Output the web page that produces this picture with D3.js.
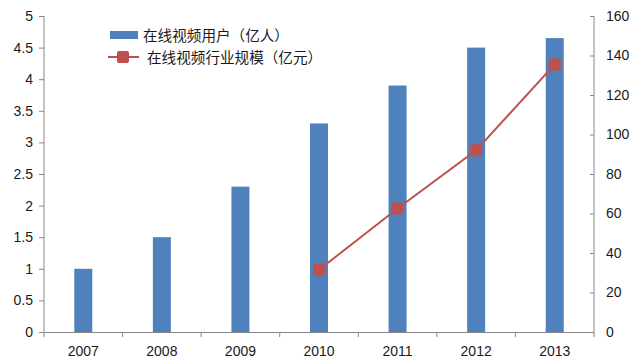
<!DOCTYPE html>
<html>
<head>
<meta charset="utf-8">
<script src="https://cdn.jsdelivr.net/npm/d3@7"></script>
<style>
  body { margin: 0; background: #fff; }
  text { font-family: "Liberation Sans", "Noto Sans", sans-serif; }
</style>
</head>
<body>
<svg id="chart" width="634" height="363"></svg>
<script>
var years = ["2007", "2008", "2009", "2010", "2011", "2012", "2013"];
var users = [1, 1.5, 2.3, 3.3, 3.9, 4.5, 4.65];           // 亿人
var scaleYears = ["2010", "2011", "2012", "2013"];
var scaleValues = [31.5, 62.5, 92, 135.5];               // 亿元
var leftTicks = [0, 0.5, 1, 1.5, 2, 2.5, 3, 3.5, 4, 4.5, 5];
var rightTicks = [0, 20, 40, 60, 80, 100, 120, 140, 160];

var svg = d3.select("#chart");
var plotLeft = 44, plotRight = 594, plotTop = 16, plotBottom = 332;
var axisColor = "#868686";

var x = d3.scaleBand().domain(years).range([plotLeft, plotRight]);
var yL = d3.scaleLinear().domain([0, 5]).range([plotBottom, plotTop]);
var yR = d3.scaleLinear().domain([0, 160]).range([plotBottom, plotTop]);

// bars
svg.selectAll(".bar")
  .data(years)
  .enter()
  .append("rect")
  .attr("class", "bar")
  .attr("x", function (d) { return x(d) + x.bandwidth() / 2 - 9; })
  .attr("width", 18)
  .attr("y", function (d, i) { return yL(users[i]); })
  .attr("height", function (d, i) { return plotBottom - yL(users[i]); })
  .attr("fill", "#4f81bd");

// left axis
var gl = svg.append("g").attr("transform", "translate(" + plotLeft + ",0)")
  .call(d3.axisLeft(yL).tickValues(leftTicks).tickSize(5).tickPadding(6)
    .tickFormat(function (d) { return String(d); }));
// right axis (ticks pointing in)
var gr = svg.append("g").attr("transform", "translate(" + plotRight + ",0)")
  .call(d3.axisRight(yR).tickValues(rightTicks).tickSize(-4).tickPadding(12));
// x axis
var gx = svg.append("g").attr("transform", "translate(0," + plotBottom + ")")
  .call(d3.axisBottom(x).tickSize(0).tickPadding(14));
gx.selectAll(".tick line").remove();
gx.selectAll(".bnd")
  .data(years.concat(["end"]))
  .enter()
  .append("line")
  .attr("x1", function (d, i) { return plotLeft + i * x.step(); })
  .attr("x2", function (d, i) { return plotLeft + i * x.step(); })
  .attr("y1", 0)
  .attr("y2", 5)
  .attr("stroke", axisColor);

[gl, gr, gx].forEach(function (g) {
  g.select(".domain").attr("stroke", axisColor);
  g.selectAll(".tick line").attr("stroke", axisColor);
  g.selectAll("text").attr("fill", "#1a1a1a").style("font-size", "14px")
    .style("font-family", "'Liberation Sans', sans-serif");
});
gl.select(".domain").attr("d", "M0," + plotTop + "V" + plotBottom);
gr.select(".domain").attr("d", "M0," + plotTop + "V" + plotBottom);

// line
var line = d3.line()
  .x(function (d) { return x(d[0]) + x.bandwidth() / 2; })
  .y(function (d) { return yR(d[1]); });
var pts = scaleYears.map(function (d, i) { return [d, scaleValues[i]]; });
svg.append("path")
  .datum(pts)
  .attr("d", line)
  .attr("fill", "none")
  .attr("stroke", "#c0504d")
  .attr("stroke-width", 2);
svg.selectAll(".mk")
  .data(pts)
  .enter()
  .append("rect")
  .attr("class", "mk")
  .attr("x", function (d) { return x(d[0]) + x.bandwidth() / 2 - 6; })
  .attr("y", function (d) { return yR(d[1]) - 6; })
  .attr("width", 12)
  .attr("height", 12)
  .attr("rx", 2)
  .attr("fill", "#c0504d");

// legend
var lg = svg.append("g");
lg.append("rect").attr("x", 110).attr("y", 31).attr("width", 28).attr("height", 8).attr("fill", "#4f81bd");
lg.append("text").attr("x", 143).attr("y", 41).text("在线视频用户（亿人）")
  .style("font-family", "'Noto Sans CJK SC', sans-serif").style("font-size", "14.6px").attr("fill", "#1a1a1a");
lg.append("line").attr("x1", 108).attr("x2", 139).attr("y1", 57).attr("y2", 57)
  .attr("stroke", "#c0504d").attr("stroke-width", 2);
lg.append("rect").attr("x", 117).attr("y", 51).attr("width", 12).attr("height", 12).attr("rx", 2).attr("fill", "#c0504d");
lg.append("text").attr("x", 147).attr("y", 63).text("在线视频行业规模（亿元）")
  .style("font-family", "'Noto Sans CJK SC', sans-serif").style("font-size", "14.6px").attr("fill", "#1a1a1a");
</script>
</body>
</html>
